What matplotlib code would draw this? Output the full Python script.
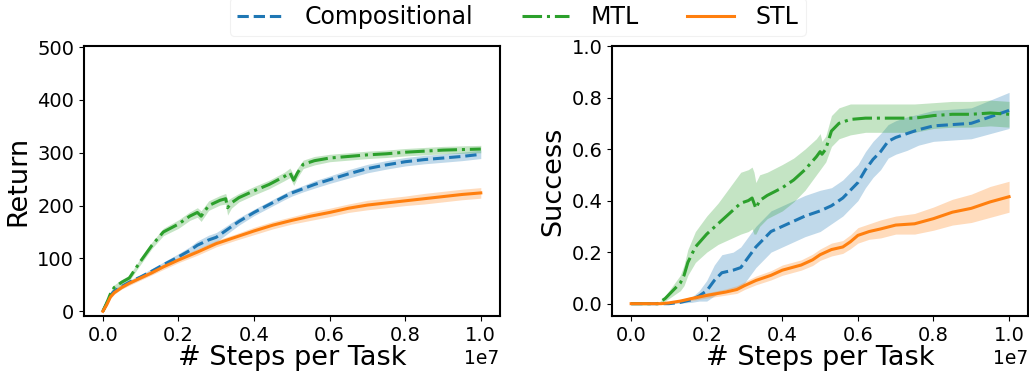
import matplotlib
matplotlib.use("Agg")
import matplotlib.pyplot as plt
import numpy as np

# ---------------- Return panel (x in units of 1e7 steps) ----------------
ret_x_mtl = [0, 0.01, 0.02, 0.03, 0.05, 0.07, 0.1, 0.13, 0.16, 0.2, 0.23, 0.25,
             0.26, 0.28, 0.31, 0.325, 0.33, 0.34, 0.36, 0.4, 0.44, 0.48, 0.495,
             0.505, 0.515, 0.53, 0.56, 0.6, 0.65, 0.7, 0.75, 0.8, 0.85, 0.9, 0.95, 1.0]
ret_mtl = [0, 15, 33, 45, 55, 63, 95, 125, 150, 165, 180, 187,
           180, 200, 210, 213, 196, 205, 215, 228, 240, 255, 262,
           248, 262, 278, 285, 290, 293, 296, 298, 301, 303, 305, 306, 307]
ret_mtl_std = [0, 3, 4, 5, 5, 5, 6, 6, 7, 8, 8, 9,
               10, 9, 9, 10, 14, 10, 8, 8, 8, 8, 9,
               10, 9, 8, 8, 7, 7, 7, 7, 7, 7, 7, 7, 7]

ret_x_comp = [0, 0.01, 0.02, 0.03, 0.05, 0.07, 0.1, 0.13, 0.16, 0.2, 0.23, 0.25,
              0.28, 0.3, 0.33, 0.36, 0.4, 0.44, 0.48, 0.5, 0.53, 0.56, 0.6, 0.65,
              0.7, 0.75, 0.8, 0.85, 0.9, 0.95, 1.0]
ret_comp = [0, 15, 30, 38, 47, 55, 65, 76, 88, 103, 115, 125,
            135, 140, 155, 170, 187, 202, 217, 224, 232, 240, 249, 260,
            270, 277, 283, 287, 290, 293, 297]
ret_comp_std = [0, 3, 3, 4, 4, 4, 4, 5, 5, 6, 7, 8,
                9, 9, 8, 7, 6, 6, 6, 6, 6, 7, 7, 8,
                8, 8, 8, 8, 8, 8, 8]

ret_x_stl = [0, 0.01, 0.02, 0.03, 0.05, 0.07, 0.1, 0.13, 0.16, 0.2, 0.25, 0.3,
             0.35, 0.4, 0.45, 0.5, 0.55, 0.6, 0.65, 0.7, 0.75, 0.8, 0.85, 0.9,
             0.95, 1.0]
ret_stl = [0, 12, 27, 35, 45, 53, 63, 73, 84, 97, 112, 128,
           140, 152, 163, 172, 180, 187, 195, 201, 205, 209, 213, 217,
           221, 224]
ret_stl_std = [0, 2, 3, 3, 3, 4, 4, 4, 5, 5, 6, 6,
               6, 7, 7, 7, 8, 8, 8, 9, 9, 9, 10, 10,
               10, 10]

# ---------------- Success panel ----------------
suc_x_mtl = [0, 0.07, 0.09, 0.11, 0.13, 0.14, 0.15, 0.17, 0.2, 0.23, 0.26, 0.29,
             0.31, 0.32, 0.325, 0.33, 0.34, 0.36, 0.4, 0.43, 0.46, 0.49, 0.5,
             0.505, 0.515, 0.53, 0.55, 0.58, 0.62, 0.66, 0.7, 0.75, 0.8, 0.85,
             0.9, 0.95, 1.0]
suc_mtl = [0, 0, 0.02, 0.05, 0.08, 0.11, 0.16, 0.22, 0.27, 0.31, 0.35, 0.39,
           0.40, 0.41, 0.39, 0.37, 0.40, 0.42, 0.45, 0.48, 0.52, 0.57, 0.59,
           0.58, 0.60, 0.67, 0.70, 0.715, 0.72, 0.72, 0.72, 0.72, 0.73, 0.735,
           0.735, 0.74, 0.735]
suc_mtl_std = [0, 0, 0.01, 0.02, 0.03, 0.04, 0.05, 0.06, 0.07, 0.08, 0.1, 0.12,
               0.12, 0.12, 0.12, 0.1, 0.1, 0.09, 0.09, 0.085, 0.08, 0.07, 0.07,
               0.05, 0.05, 0.06, 0.06, 0.06, 0.055, 0.055, 0.055, 0.055, 0.05, 0.05,
               0.05, 0.05, 0.05]

suc_x_comp = [0, 0.1, 0.13, 0.16, 0.18, 0.2, 0.22, 0.24, 0.27, 0.29, 0.31, 0.33,
              0.35, 0.37, 0.4, 0.43, 0.46, 0.5, 0.53, 0.56, 0.58, 0.6, 0.62, 0.64,
              0.66, 0.68, 0.7, 0.73, 0.76, 0.8, 0.85, 0.9, 0.95, 1.0]
suc_comp = [0, 0, 0.005, 0.015, 0.03, 0.05, 0.09, 0.12, 0.13, 0.14, 0.18, 0.22,
            0.25, 0.28, 0.30, 0.32, 0.34, 0.36, 0.38, 0.41, 0.44, 0.47, 0.52, 0.56,
            0.59, 0.63, 0.645, 0.66, 0.675, 0.69, 0.695, 0.70, 0.725, 0.75]
suc_comp_std = [0, 0, 0.003, 0.01, 0.02, 0.04, 0.06, 0.07, 0.07, 0.08, 0.08, 0.08,
                0.08, 0.08, 0.08, 0.08, 0.08, 0.08, 0.07, 0.07, 0.07, 0.07, 0.07, 0.07,
                0.07, 0.065, 0.065, 0.065, 0.06, 0.06, 0.06, 0.06, 0.065, 0.07]

suc_x_stl = [0, 0.08, 0.1, 0.13, 0.16, 0.2, 0.25, 0.28, 0.3, 0.33, 0.37, 0.4,
             0.45, 0.48, 0.5, 0.53, 0.56, 0.58, 0.6, 0.63, 0.66, 0.7, 0.75, 0.8,
             0.85, 0.9, 0.95, 1.0]
suc_stl = [0, 0, 0.003, 0.01, 0.02, 0.032, 0.045, 0.055, 0.07, 0.09, 0.11, 0.13,
           0.15, 0.17, 0.19, 0.21, 0.22, 0.24, 0.265, 0.28, 0.29, 0.305, 0.31, 0.33,
           0.355, 0.37, 0.395, 0.415]
suc_stl_std = [0, 0, 0.002, 0.005, 0.008, 0.01, 0.012, 0.015, 0.015, 0.017, 0.018, 0.02,
               0.02, 0.022, 0.022, 0.025, 0.025, 0.027, 0.03, 0.03, 0.035, 0.035, 0.04, 0.045,
               0.05, 0.055, 0.06, 0.06]

labels = ["Compositional", "MTL", "STL"]
colors = ["#1f77b4", "#2ca02c", "#ff7f0e"]
styles = ["--", "-.", "-"]
SCALE = 1e7

fig = plt.figure(figsize=(10.29, 3.74), dpi=100)
ax1 = fig.add_axes([0.0816, 0.155, 0.404, 0.722])
ax2 = fig.add_axes([0.595, 0.155, 0.404, 0.722])


def draw(ax, series):
    handles = []
    for (x, y, s), lab, c, ls in zip(series, labels, colors, styles):
        x = np.asarray(x) * SCALE
        y = np.asarray(y)
        s = np.asarray(s)
        ax.fill_between(x, y - s, y + s, color=c, alpha=0.28, linewidth=0)
        h, = ax.plot(x, y, color=c, linestyle=ls, linewidth=2.2, label=lab)
        handles.append(h)
    return handles


handles = draw(ax1, [(ret_x_comp, ret_comp, ret_comp_std),
                     (ret_x_mtl, ret_mtl, ret_mtl_std),
                     (ret_x_stl, ret_stl, ret_stl_std)])
draw(ax2, [(suc_x_comp, suc_comp, suc_comp_std),
           (suc_x_mtl, suc_mtl, suc_mtl_std),
           (suc_x_stl, suc_stl, suc_stl_std)])

ax1.set_ylim(-9, 502)
ax1.set_yticks([0, 100, 200, 300, 400, 500])
ax2.set_ylim(-0.048, 1.0)
ax2.set_yticks([0.0, 0.2, 0.4, 0.6, 0.8, 1.0])

for ax, yl in [(ax1, "Return"), (ax2, "Success")]:
    ax.set_xlim(-0.05 * SCALE, 1.05 * SCALE)
    ax.set_xticks(np.array([0, 0.2, 0.4, 0.6, 0.8, 1.0]) * SCALE)
    ax.set_xlabel("# Steps per Task", fontsize=19.5, labelpad=0)
    ax.set_ylabel(yl, fontsize=19.5, labelpad=4)
    ax.tick_params(labelsize=14)
    ax.xaxis.get_offset_text().set_fontsize(13.5)
    for sp in ax.spines.values():
        sp.set_linewidth(1.5)

leg = fig.legend(handles, labels, loc="lower center", bbox_to_anchor=(0.503, 0.904),
                 borderaxespad=0, ncol=3, fontsize=17, frameon=True, handlelength=2.0,
                 handletextpad=0.9, columnspacing=2.05, borderpad=0.3)
leg.get_frame().set_edgecolor("#eeeeee")
leg.get_frame().set_linewidth(0.8)

fig.savefig("out.png", dpi=100)
